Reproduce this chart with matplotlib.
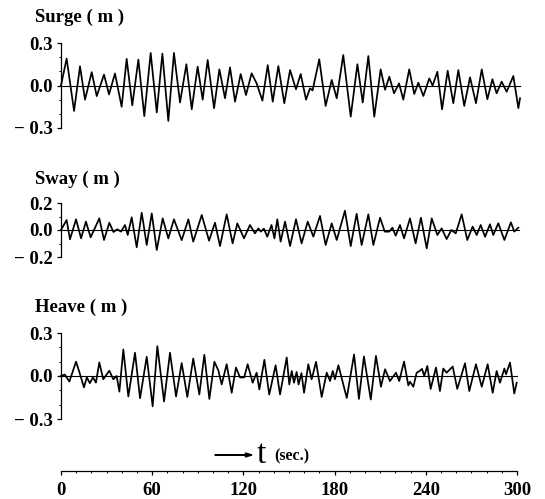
import matplotlib
matplotlib.use("Agg")
import matplotlib.pyplot as plt
from matplotlib.ticker import MultipleLocator

# Valores (picos e vales), tempo em s, deslocamento em m
surge_t = [0, 3.7, 8.6, 12.5, 15.8, 20.2, 23.5, 28.3, 31.6, 35.5, 39.9, 43.2, 46.9, 50.9,
           54.8, 59.0, 63.0, 66.7, 70.6, 74.3, 78.3, 82.5, 86.0, 89.9, 93.2, 96.5, 100.7,
           104.2, 107.9, 111.2, 114.5, 118.2, 121.7, 125.4, 128.7, 132.5, 136.0, 139.3,
           143.0, 146.9, 150.7, 154.6, 157.7, 161.2, 163.8, 165.5, 169.9, 174.1, 178.1,
           181.4, 185.7, 190.6, 195.0, 198.5, 202.2, 206.1, 210.3, 213.2, 216.0, 219.1,
           222.4, 225.2, 229.1, 232.4, 235.1, 238.4, 242.3, 244.5, 247.6, 250.7, 254.4,
           258.1, 261.4, 265.3, 269.1, 273.0, 276.8, 280.5, 283.8, 286.6, 289.9, 293.2,
           297.6, 300.9, 302.0]
surge_v = [0.0, 0.19, -0.18, 0.136, -0.10, 0.094, -0.075, 0.077, -0.063, 0.085, -0.15, 0.188,
           -0.14, 0.183, -0.216, 0.23, -0.19, 0.225, -0.25, 0.23, -0.12, 0.15, -0.168, 0.133,
           -0.10, 0.18, -0.16, 0.114, -0.09, 0.128, -0.114, 0.081, -0.067, 0.086, 0.015,
           -0.107, 0.144, -0.114, 0.137, -0.125, 0.109, -0.027, 0.081, -0.10, -0.02, -0.035,
           0.185, -0.144, 0.039, -0.09, 0.215, -0.22, 0.15, -0.12, 0.208, -0.22, 0.114, -0.03,
           0.062, -0.055, 0.015, -0.10, 0.114, -0.06, 0.02, -0.074, 0.05, 0.0, 0.097, -0.168,
           0.104, -0.125, 0.109, -0.144, 0.058, -0.125, 0.114, -0.097, 0.044, -0.055, 0.027,
           -0.044, 0.067, -0.16, -0.09]

sway_t = [0, 3.7, 5.9, 9.9, 13.2, 16.4, 19.5, 25.2, 28.3, 31.8, 34.5, 37.0, 39.5, 42.1, 43.9,
          46.5, 49.8, 53.1, 56.4, 59.7, 63.0, 66.9, 70.6, 74.3, 79.4, 83.8, 87.0, 92.6, 97.4,
          101.3, 104.6, 109.0, 112.9, 116.0, 120.4, 124.3, 127.6, 129.8, 131.5, 133.5, 135.7,
          138.5, 140.4, 142.3, 144.5, 147.4, 150.7, 154.6, 158.3, 162.3, 166.0, 170.4, 174.1,
          178.1, 181.4, 186.8, 190.6, 194.5, 197.8, 202.2, 205.5, 209.9, 213.0, 216.0, 218.0,
          220.2, 223.0, 225.7, 229.6, 233.3, 236.8, 240.6, 243.9, 247.6, 250.4, 253.7, 256.8,
          259.7, 263.6, 267.3, 270.8, 273.5, 276.1, 279.0, 282.2, 284.4, 287.7, 291.7, 296.0,
          298.2, 300.9]
sway_v = [0.0, 0.074, -0.069, 0.079, -0.062, 0.062, -0.054, 0.086, -0.074, 0.054, -0.015,
          0.005, -0.012, 0.037, -0.037, 0.094, -0.128, 0.128, -0.111, 0.123, -0.148, 0.086,
          -0.062, 0.079, -0.075, 0.079, -0.086, 0.111, -0.079, 0.054, -0.119, 0.116, -0.099,
          0.049, -0.062, 0.037, -0.025, 0.012, -0.012, 0.01, -0.05, 0.037, -0.062, 0.079,
          -0.086, 0.062, -0.119, 0.079, -0.099, 0.062, -0.049, 0.104, -0.111, 0.049, -0.074,
          0.143, -0.119, 0.12, -0.111, 0.116, -0.111, 0.091, -0.012, -0.012, 0.017, -0.042,
          0.037, -0.062, 0.086, -0.099, 0.091, -0.136, 0.086, -0.037, 0.012, -0.067, 0.0,
          -0.025, 0.116, -0.074, 0.025, -0.037, 0.037, -0.05, 0.042, -0.037, 0.05, -0.074,
          0.057, -0.012, 0.017]

heave_t = [0, 2.5, 5.5, 9.9, 12.0, 15.1, 17.0, 19.0, 21.0, 23.0, 25.2, 27.8, 31.8, 34.4, 36.6,
           38.4, 41.0, 44.3, 48.7, 52.0, 56.4, 60.3, 63.4, 67.8, 71.7, 75.7, 79.4, 83.1, 87.0,
           91.0, 94.3, 97.6, 100.9, 103.5, 105.7, 109.0, 112.3, 115.1, 117.8, 120.5, 122.8,
           126.1, 128.7, 130.5, 133.8, 137.0, 141.2, 144.1, 148.5, 150.2, 151.8, 153.3, 155.0,
           156.3, 158.2, 159.9, 162.7, 164.9, 167.8, 171.5, 174.8, 177.0, 178.8, 180.2, 182.5,
           188.0, 192.8, 196.0, 199.3, 203.8, 207.2, 210.5, 213.2, 216.4, 220.4, 222.5, 225.7,
           228.5, 229.6, 231.8, 234.0, 236.0, 237.5, 239.0, 241.0, 243.2, 246.7, 249.3, 251.5,
           253.7, 257.7, 260.7, 265.8, 268.6, 273.0, 276.8, 280.7, 284.0, 286.6, 288.8, 291.7,
           292.8, 295.4, 298.2, 299.8]
heave_v = [0.0, 0.01, -0.039, 0.10, 0.03, -0.079, -0.01, -0.05, -0.01, -0.046, 0.095, -0.023,
           0.037, -0.023, 0.0, -0.109, 0.185, -0.143, 0.162, -0.155, 0.134, -0.212, 0.208,
           -0.178, 0.162, -0.143, 0.09, -0.146, 0.122, -0.129, 0.148, -0.16, 0.099, 0.04,
           -0.059, 0.082, -0.117, 0.059, -0.01, -0.01, 0.082, -0.047, 0.023, -0.094, 0.113,
           -0.129, 0.075, -0.129, 0.129, -0.059, 0.035, -0.047, 0.028, -0.059, 0.02, -0.117,
           0.082, -0.023, 0.099, -0.146, 0.023, -0.035, 0.035, -0.023, 0.075, -0.153, 0.15,
           -0.16, 0.136, -0.164, 0.14, -0.075, 0.047, -0.035, 0.023, -0.035, 0.101, -0.066,
           -0.04, -0.075, 0.023, 0.035, 0.05, 0.0, 0.07, -0.09, 0.059, -0.105, 0.052, 0.023,
           0.066, -0.09, 0.089, -0.105, 0.082, -0.075, 0.082, -0.117, 0.035, -0.047, 0.052,
           0.012, 0.094, -0.122, -0.047]

t_ticks = [0, 60, 120, 180, 240, 300]

FONT = 'Liberation Serif'
W, H = 545, 499

fig = plt.figure(figsize=(W / 100, H / 100), dpi=100)


def px_axes(x0, ytop, x1, ybot):
    # converte pixels (origem no topo) para fração da figura
    return fig.add_axes([x0 / W, 1 - ybot / H, (x1 - x0) / W, (ybot - ytop) / H])


def painel(ytop, ybot, lim, t, v, titulo, ytitulo, x_fim):
    ax = px_axes(61, ytop, 517, ybot)
    ax.set_xlim(0, 300)
    ax.set_ylim(-lim, lim)
    for s in ['top', 'right', 'bottom']:
        ax.spines[s].set_visible(False)
    ax.spines['left'].set_linewidth(0.9)
    ax.set_xticks([])
    ax.set_yticks([-lim, 0, lim])
    ax.set_yticklabels([f'\u2212 {lim:.1f}', '0.0', f'{lim:.1f}'],
                       fontfamily=FONT, fontweight='bold', fontsize=13.5)
    ax.yaxis.set_minor_locator(MultipleLocator(0.1))
    ax.tick_params(axis='y', which='major', direction='out', length=3, width=0.9, pad=3)
    ax.tick_params(axis='y', which='minor', direction='out', length=1.5, width=0.7)
    ax.plot([0, x_fim], [0, 0], color='black', lw=0.8, clip_on=False)
    ax.plot(t, v, color='black', lw=1.25, clip_on=False, solid_joinstyle='round')
    ax.patch.set_alpha(0)
    fig.text(35 / W, 1 - ytitulo / H, titulo, fontfamily=FONT, fontweight='bold',
             fontsize=13.5, ha='left', va='center')
    return ax


painel(43, 128, 0.3, surge_t, surge_v, 'Surge ( m )', 17, 302)
painel(203, 257, 0.2, sway_t, sway_v, 'Sway ( m )', 179, 301)
painel(333, 419, 0.3, heave_t, heave_v, 'Heave ( m )', 307, 300)

# eixo do tempo
axb = px_axes(61, 470, 517, 471)
axb.set_xlim(0, 300)
axb.set_ylim(0, 1)
for s in ['top', 'right', 'left']:
    axb.spines[s].set_visible(False)
axb.spines['bottom'].set_linewidth(0.9)
axb.set_yticks([])
axb.set_xticks(t_ticks)
axb.set_xticklabels([str(v) for v in t_ticks], fontfamily=FONT, fontweight='bold',
                    fontsize=13.5)
axb.xaxis.set_minor_locator(MultipleLocator(10))
axb.tick_params(axis='x', which='major', direction='out', length=3, width=0.9, pad=5)
axb.tick_params(axis='x', which='minor', direction='out', length=1.5, width=0.7)
axb.patch.set_alpha(0)

# rótulo "→ t (sec.)"
fig.patches.append(matplotlib.patches.FancyArrow(
    215 / W, 1 - 455 / H, 37 / W, 0, width=0.0012, head_width=0.008, head_length=0.012,
    length_includes_head=True, color='black', transform=fig.transFigure))
fig.text(257 / W, 1 - 455 / H, 't', fontfamily=FONT, fontsize=24, ha='left', va='center')
fig.text(274 / W, 1 - 456 / H, '(sec.)', fontfamily=FONT, fontweight='bold', fontsize=11.5,
         ha='left', va='center')

fig.savefig('out.png', dpi=100)
